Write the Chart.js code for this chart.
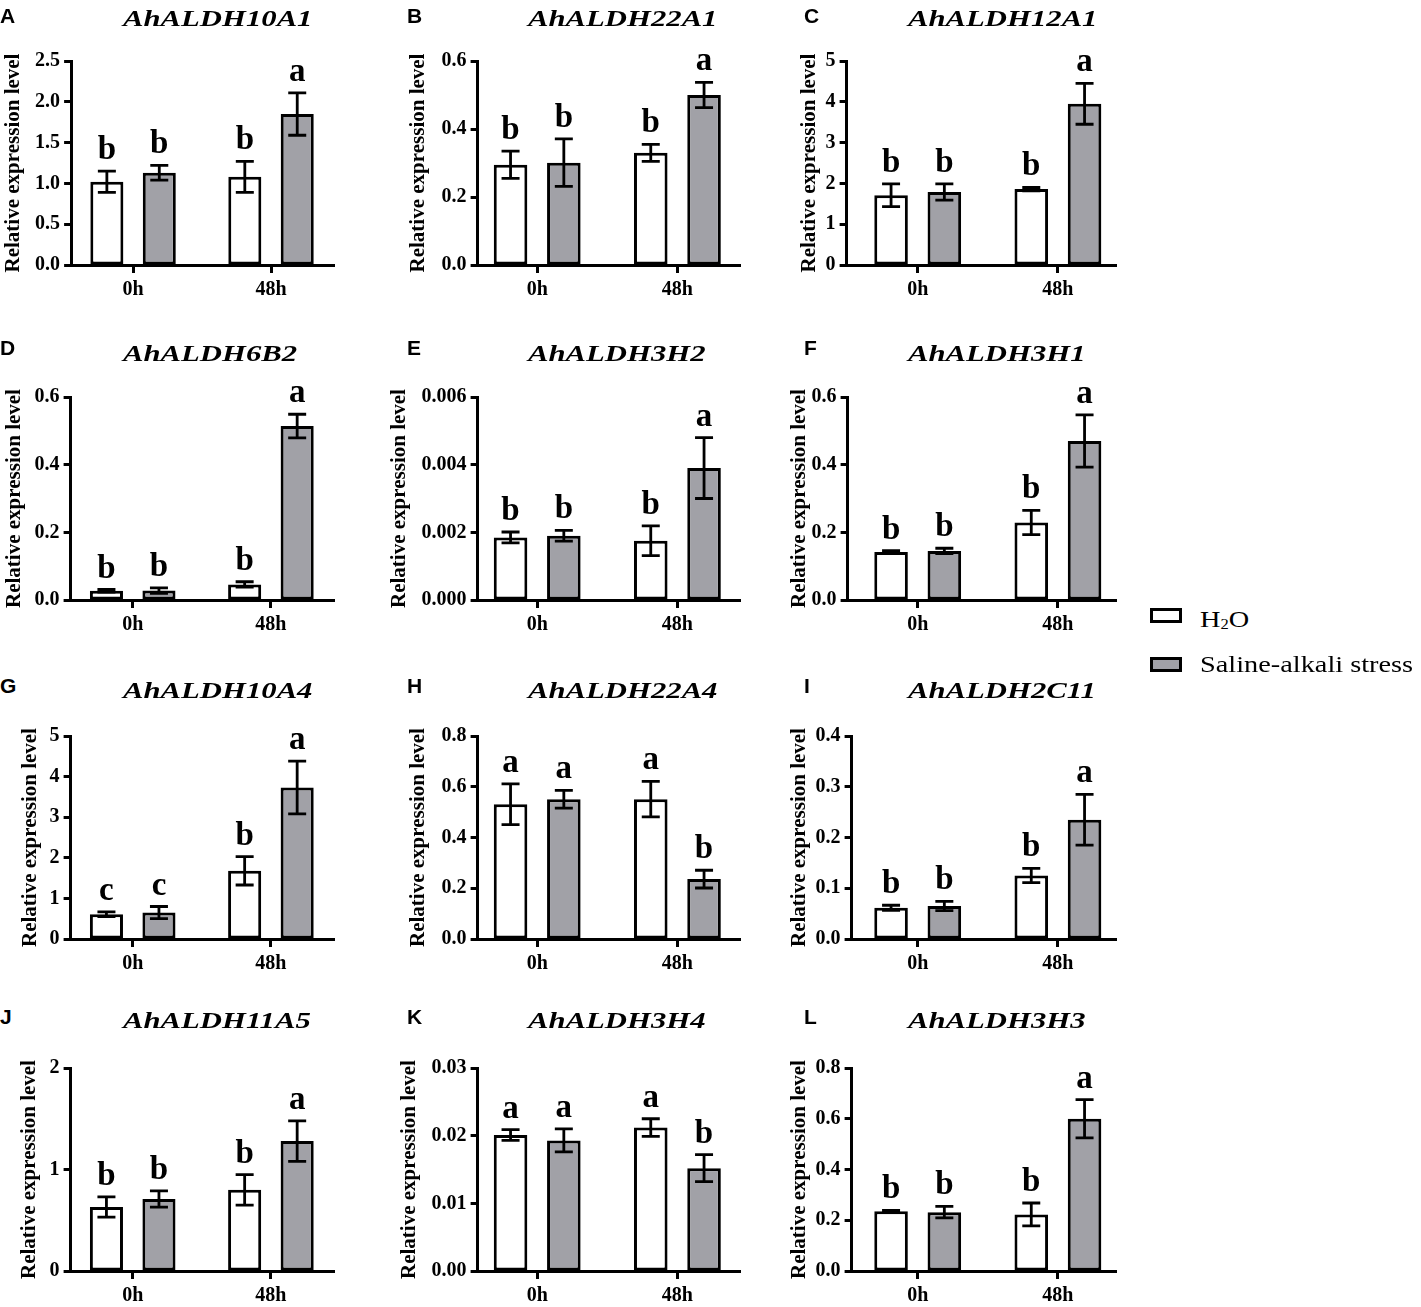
<!DOCTYPE html>
<html lang="en">
<head>
<meta charset="UTF-8" />
<title>AhALDH expression under saline-alkali stress</title>
<script src="https://cdn.jsdelivr.net/npm/chart.js"></script>
<style>
  body { margin: 0; background: #fff; }
  #figure {
    position: relative;
    width: 1421px;
    height: 1307px;
    overflow: hidden;
    font-family: 'Liberation Serif', 'Times New Roman', serif;
    color: #000;
  }
  #figure canvas { position: absolute; }
  .panel-letter {
    position: absolute;
    font-family: 'Liberation Sans', Arial, sans-serif;
    font-weight: bold;
    font-size: 21px;
    line-height: 21px;
  }
  .gene {
    position: absolute;
    font-weight: bold;
    font-style: italic;
    font-size: 24px;
    line-height: 24px;
    white-space: nowrap;
    transform: scaleX(1.28);
    transform-origin: left top;
  }
  .legend-box {
    position: absolute;
    box-sizing: border-box;
    width: 32px;
    height: 15px;
    border: 3px solid #000;
  }
  .legend-text {
    position: absolute;
    font-size: 24px;
    line-height: 24px;
    white-space: nowrap;
    transform: scaleX(1.18);
    transform-origin: left top;
  }
  .legend-text sub { font-size: 14px; vertical-align: -2px; line-height: 0; }
</style>
</head>
<body>
<div id="figure"></div>

<script>
  // ---- data ----
  const timePoints = ['0h', '48h'];
  const seriesNames = ['H2O', 'Saline-alkali stress'];
  const panelLetters = ['A', 'B', 'C', 'D', 'E', 'F', 'G', 'H', 'I', 'J', 'K', 'L'];
  const genes = ['AhALDH10A1', 'AhALDH22A1', 'AhALDH12A1', 'AhALDH6B2', 'AhALDH3H2', 'AhALDH3H1',
                 'AhALDH10A4', 'AhALDH22A4', 'AhALDH2C11', 'AhALDH11A5', 'AhALDH3H4', 'AhALDH3H3'];

  // each entry: [0h, 48h]
  const h2oMean = [
    [1.02, 1.08], [0.295, 0.33], [1.71, 1.86],
    [0.027, 0.046], [0.00185, 0.00175], [0.142, 0.229],
    [0.61, 1.68], [0.531, 0.551], [0.0615, 0.125],
    [0.63, 0.80], [0.0201, 0.0212], [0.235, 0.223]
  ];
  const h2oSD = [
    [0.13, 0.19], [0.04, 0.025], [0.28, 0.04],
    [0.004, 0.008], [0.00016, 0.00044], [0.004, 0.036],
    [0.06, 0.35], [0.08, 0.07], [0.005, 0.014],
    [0.10, 0.15], [0.0008, 0.0013], [0.004, 0.045]
  ];
  const salineMean = [
    [1.13, 1.85], [0.301, 0.50], [1.79, 3.95],
    [0.028, 0.514], [0.0019, 0.0039], [0.145, 0.470],
    [0.65, 3.73], [0.551, 0.236], [0.065, 0.235],
    [0.71, 1.28], [0.0193, 0.0152], [0.232, 0.600]
  ];
  const salineSD = [
    [0.09, 0.26], [0.07, 0.037], [0.2, 0.5],
    [0.008, 0.035], [0.00016, 0.0009], [0.008, 0.077],
    [0.15, 0.65], [0.035, 0.035], [0.009, 0.05],
    [0.08, 0.2], [0.0017, 0.002], [0.023, 0.075]
  ];
  const h2oLetters = [
    ['b', 'b'], ['b', 'b'], ['b', 'b'],
    ['b', 'b'], ['b', 'b'], ['b', 'b'],
    ['c', 'b'], ['a', 'a'], ['b', 'b'],
    ['b', 'b'], ['a', 'a'], ['b', 'b']
  ];
  const salineLetters = [
    ['b', 'a'], ['b', 'a'], ['b', 'a'],
    ['b', 'a'], ['b', 'a'], ['b', 'a'],
    ['c', 'a'], ['a', 'b'], ['b', 'a'],
    ['b', 'a'], ['a', 'b'], ['b', 'a']
  ];
  const yMax = [2.5, 0.6, 5, 0.6, 0.006, 0.6, 5, 0.8, 0.4, 2, 0.03, 0.8];
  const yStep = [0.5, 0.2, 1, 0.2, 0.002, 0.2, 1, 0.2, 0.1, 1, 0.01, 0.2];

  // ---- layout (page pixels) ----
  const rowAxisTop = [61, 397, 736, 1068];
  const rowZeroY = [265, 600, 939, 1271];
  const rowLetterTop = [8, 340, 678, 1009];
  const rowGeneTop = [10, 345, 682, 1012];
  const colLetterX = [0, 407, 804];
  const colGeneX = [123, 528, 908];
  const colTick0X = [133, 537.5, 918];
  const colUnitPx = [138, 140, 140];
  const colRightX = [334, 740, 1116];
  const panelAxisX = [71, 478, 847, 71, 478, 848, 71, 478, 852, 71, 478, 852];
  const panelTitleX = [13.5, 419, 810, 15, 400, 800, 31, 419, 800, 30, 410, 800];

  const WHITE = '#ffffff';
  const GREY = '#a1a1a7';
  const tickFont = { family: 'Liberation Serif', weight: 'bold', size: 20 };
  const titleFont = { family: 'Liberation Serif', weight: 'bold', size: 21 };

  Chart.defaults.font.family = 'Liberation Serif';
  Chart.defaults.color = '#000';

  const errorBarPlugin = {
    id: 'errorBars',
    afterDatasetsDraw(chart) {
      const ctx = chart.ctx;
      const yScale = chart.scales.y;
      ctx.save();
      chart.data.datasets.forEach((ds, i) => {
        const meta = chart.getDatasetMeta(i);
        meta.data.forEach((bar, j) => {
          const v = ds.data[j].y;
          const sd = ds.errors[j];
          const top = yScale.getPixelForValue(v + sd);
          const bottom = yScale.getPixelForValue(Math.max(v - sd, 0));
          ctx.strokeStyle = '#000';
          ctx.lineWidth = 2.8;
          ctx.beginPath();
          ctx.moveTo(bar.x, top);
          ctx.lineTo(bar.x, bottom);
          ctx.moveTo(bar.x - 9, top);
          ctx.lineTo(bar.x + 9, top);
          ctx.moveTo(bar.x - 9, bottom);
          ctx.lineTo(bar.x + 9, bottom);
          ctx.stroke();

          ctx.font = 'bold 33px "Liberation Serif"';
          ctx.fillStyle = '#000';
          ctx.textAlign = 'center';
          ctx.textBaseline = 'alphabetic';
          ctx.fillText(ds.sigLetters[j], bar.x, top - 12);
        });
      });
      ctx.restore();
    }
  };

  const figure = document.getElementById('figure');

  function addText(cls, html, left, top) {
    const el = document.createElement('div');
    el.className = cls;
    el.innerHTML = html;
    el.style.left = left + 'px';
    el.style.top = top + 'px';
    figure.appendChild(el);
  }

  function decimalsOf(step) {
    const s = String(step);
    return s.includes('.') ? s.split('.')[1].length : 0;
  }

  function makePanel(p) {
    const row = Math.floor(p / 3);
    const col = p % 3;

    const axisX = panelAxisX[p];
    const canvasLeft = panelTitleX[p] - 12.6;
    const yWidth = axisX - canvasLeft;
    const plotW = colRightX[col] - axisX;
    const plotH = rowZeroY[row] - rowAxisTop[row];
    const padTop = 61;
    const padRight = 12;
    const xHeight = 40;
    const w = Math.round(yWidth + plotW + padRight);
    const h = padTop + plotH + xHeight + 6;

    const unit = colUnitPx[col];
    const xMin = -(colTick0X[col] - axisX) / unit;
    const xMax = xMin + plotW / unit;

    const canvas = document.createElement('canvas');
    canvas.width = w;
    canvas.height = h;
    canvas.style.left = canvasLeft + 'px';
    canvas.style.top = (rowAxisTop[row] - padTop) + 'px';
    figure.appendChild(canvas);

    addText('panel-letter', panelLetters[p], colLetterX[col], rowLetterTop[row] - 3);
    addText('gene', genes[p], colGeneX[col], rowGeneTop[row] - 4);

    const dec = decimalsOf(yStep[p]);

    new Chart(canvas, {
      type: 'bar',
      data: {
        datasets: [
          {
            label: seriesNames[0],
            data: timePoints.map((t, k) => ({ x: k, y: h2oMean[p][k] })),
            errors: h2oSD[p],
            sigLetters: h2oLetters[p],
            backgroundColor: WHITE,
            borderColor: '#000',
            borderWidth: 3,
            borderSkipped: false
          },
          {
            label: seriesNames[1],
            data: timePoints.map((t, k) => ({ x: k, y: salineMean[p][k] })),
            errors: salineSD[p],
            sigLetters: salineLetters[p],
            backgroundColor: GREY,
            borderColor: '#000',
            borderWidth: 3,
            borderSkipped: false
          }
        ]
      },
      options: {
        responsive: false,
        maintainAspectRatio: false,
        animation: false,
        categoryPercentage: 0.76,
        barPercentage: 0.63,
        layout: { padding: { top: padTop, right: padRight, bottom: 6, left: 0 } },
        plugins: {
          legend: { display: false },
          tooltip: { enabled: false }
        },
        scales: {
          x: {
            type: 'linear',
            offset: false,
            min: xMin,
            max: xMax,
            afterBuildTicks: s => { s.ticks = timePoints.map((t, k) => ({ value: k })); },
            afterFit: s => { s.height = xHeight; },
            ticks: {
              callback: v => timePoints[v],
              font: tickFont,
              color: '#000',
              padding: 5,
              maxRotation: 0,
              autoSkip: false
            },
            grid: { offset: false, drawOnChartArea: false, tickLength: 8, tickWidth: 3, tickColor: '#000' },
            border: { color: '#000', width: 3 }
          },
          y: {
            type: 'linear',
            min: 0,
            max: yMax[p],
            afterFit: s => { s.width = yWidth; },
            ticks: {
              stepSize: yStep[p],
              callback: v => v.toFixed(dec),
              font: tickFont,
              color: '#000',
              padding: 4
            },
            grid: { drawOnChartArea: false, tickLength: 7, tickWidth: 3, tickColor: '#000' },
            border: { color: '#000', width: 3 },
            title: {
              display: true,
              text: 'Relative expression level',
              font: titleFont,
              color: '#000',
              padding: { top: 0, bottom: 0 }
            }
          }
        }
      },
      plugins: [errorBarPlugin]
    });
  }

  genes.forEach((g, p) => makePanel(p));

  // legend
  const legendBox1 = document.createElement('div');
  legendBox1.className = 'legend-box';
  legendBox1.style.cssText = 'left:1150px;top:608px;background:' + WHITE;
  figure.appendChild(legendBox1);
  const legendBox2 = document.createElement('div');
  legendBox2.className = 'legend-box';
  legendBox2.style.cssText = 'left:1150px;top:657px;background:' + GREY;
  figure.appendChild(legendBox2);
  addText('legend-text', 'H<sub>2</sub>O', 1200, 607);
  addText('legend-text', seriesNames[1], 1200, 652);
</script>
</body>
</html>
